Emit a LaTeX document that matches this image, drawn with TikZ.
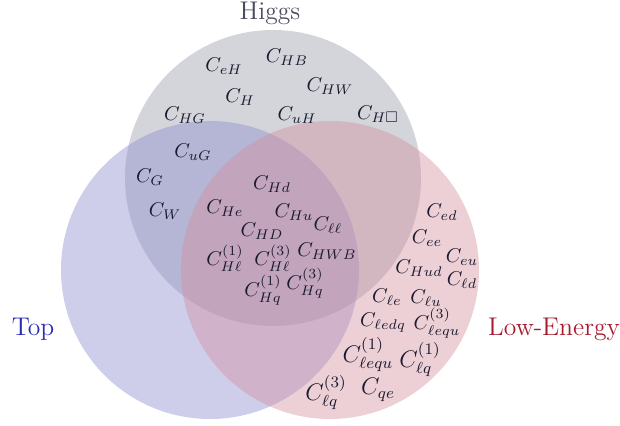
\documentclass[tikz,border=0pt]{standalone}
\usepackage{amsmath,amssymb}
\usepackage{tikz}
\usetikzlibrary{positioning}
\usepackage{xcolor}
\definecolor{higgsc}{HTML}{989BA6}
\definecolor{topc}{HTML}{8A8AD0}
\definecolor{lowc}{HTML}{D48F9D}
\definecolor{ink}{HTML}{1C1A30}
\definecolor{higgst}{HTML}{4A4C5E}
\definecolor{topt}{HTML}{2B2BB8}
\definecolor{lowt}{HTML}{A81A2C}
\tikzset{blob/.style={fill opacity=0.42,draw=none},
  coef/.style={text=ink,inner sep=0.3pt},
  title/.style={font=\fontsize{12.8}{15}\selectfont,inner sep=1pt}}

\begin{document}
\begin{tikzpicture}[x=0.5pt,y=-0.5pt]
    \useasboundingbox (0,0) rectangle (620,426);
    \fill[blob,higgsc](273,178)circle[radius=74pt];
    \fill[blob,topc](210,270)circle[radius=74.5pt];
    \fill[blob,lowc](330,270)circle[radius=74.5pt];
    \node[title,text=higgst] (higgs) at (270,13) {Higgs};
    \node[title,text=topt] (top) at (33,329) {Top};
    \node[title,text=lowt] (low) at (554,329) {Low-Energy};
    % Higgs only
    \foreach \px/\py/\nm/\lab in {224/66/ceH/{C_{eH}},287/57/cHB/{C_{HB}},330/86/cHW/{C_{HW}},
      240/97/cH/{C_{H}},185/115/cHG/{C_{HG}},297/115/cuH/{C_{uH}},378/114/cHbox/{C_{H\Box}}}
      \node[coef] (\nm) at (\px,\py) {$\lab$};
    % Higgs and Top
    \foreach \px/\py/\nm/\lab in {193/152/cuG/{C_{uG}},150/177/cG/{C_{G}},165/211/cW/{C_{W}}}
      \node[coef] (\nm) at (\px,\py) {$\lab$};
    % all three
    \foreach \px/\py/\nm/\lab in {272/184/cHd/{C_{Hd}},225/208/cHe/{C_{He}},294/212/cHu/{C_{Hu}},
      328/225/cll/{C_{\ell\ell}},262/231/cHD/{C_{HD}},327/251/cHWB/{C_{HWB}},
      225/258/cHlone/{C_{H\ell}^{(1)}},273/258/cHlthree/{C_{H\ell}^{(3)}},
      263/290/cHqone/{C_{Hq}^{(1)}},305/283/cHqthree/{C_{Hq}^{(3)}}}
      \node[coef] (\nm) at (\px,\py) {$\lab$};
    % Low-Energy
    \foreach \px/\py/\nm/\lab in {442/212/ced/{C_{ed}},427/238/cee/{C_{ee}},462/257/ceu/{C_{eu}},
      419/268/cHud/{C_{Hud}},462/280/cld/{C_{\ell d}},387/297/cle/{C_{\ell e}},426/298/clu/{C_{\ell u}},
      383/323/cledq/{C_{\ell edq}},437/323/clequthree/{C_{\ell equ}^{(3)}}}
      \node[coef] (\nm) at (\px,\py) {$\lab$};
    \foreach \px/\py/\nm/\lab in {368/355/clequone/{C_{\ell equ}^{(1)}},420/360/clqone/{C_{\ell q}^{(1)}},
      378/390/cqe/{C_{qe}},326/393/clqthree/{C_{\ell q}^{(3)}}}
      \node[coef,font=\large] (\nm) at (\px,\py) {$\lab$};
  \end{tikzpicture}
\end{document}
